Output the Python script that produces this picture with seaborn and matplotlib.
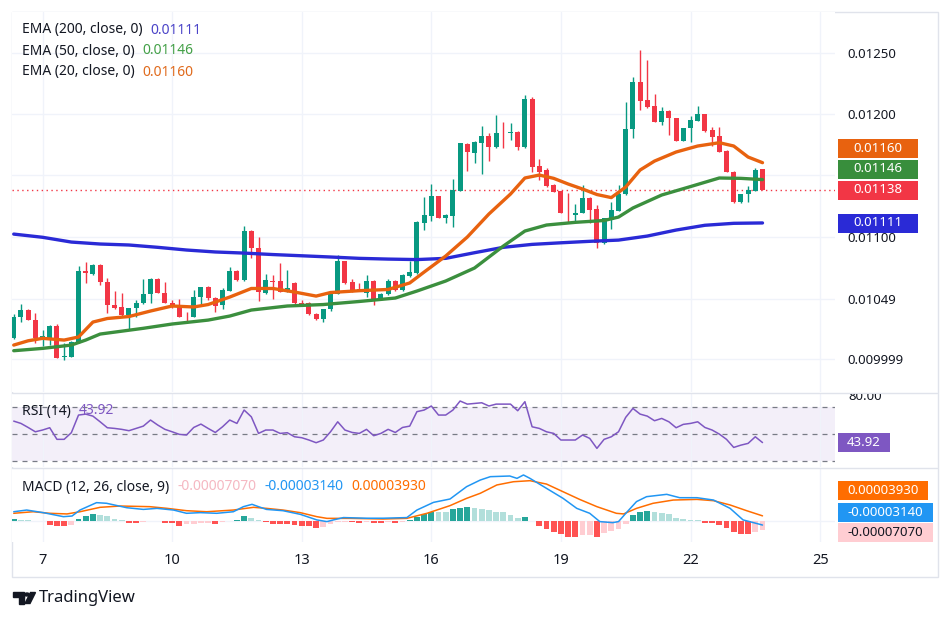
import numpy as np
import pandas as pd
import matplotlib
matplotlib.use("Agg")
import matplotlib.pyplot as plt
import seaborn as sns
from matplotlib.patches import Rectangle, Polygon, Circle
from matplotlib.lines import Line2D
from matplotlib.transforms import Bbox

# ---------------- data (4h candles) ----------------
opens = [0.010169, 0.010345, 0.010400, 0.010319, 0.010161, 0.010169, 0.010270, 0.010014, 0.010019, 0.010142,
         0.010721, 0.010692, 0.010767, 0.010626, 0.010441, 0.010423, 0.010359, 0.010414, 0.010455, 0.010531,
         0.010651, 0.010541, 0.010460, 0.010423, 0.010345, 0.010345, 0.010504, 0.010590, 0.010496, 0.010441,
         0.010558, 0.010718, 0.010645, 0.011045, 0.010904, 0.010536, 0.010637, 0.010637, 0.010550, 0.010624,
         0.010460, 0.010455, 0.010365, 0.010324, 0.010406, 0.010531, 0.010800, 0.010631, 0.010572, 0.010536,
         0.010637, 0.010482, 0.010531, 0.010637, 0.010563, 0.010680, 0.010700, 0.011113, 0.011167, 0.011331,
         0.011154, 0.011167, 0.011374, 0.011755, 0.011684, 0.011766, 0.011820, 0.011733, 0.011847, 0.011842,
         0.011855, 0.011733, 0.012122, 0.011576, 0.011543, 0.011421, 0.011371, 0.011194, 0.011176, 0.011194,
         0.011312, 0.011222, 0.010945, 0.011135, 0.011211, 0.011347, 0.011875, 0.012264, 0.012114, 0.012065,
         0.011937, 0.012027, 0.011965, 0.011782, 0.011883, 0.011945, 0.012000, 0.011869, 0.011820, 0.011700,
         0.011529, 0.011279, 0.011347, 0.011374, 0.011551]
highs = [0.010365, 0.010447, 0.010405, 0.010373, 0.010237, 0.010275, 0.010283, 0.010133, 0.010150, 0.010762,
         0.010789, 0.010772, 0.010775, 0.010659, 0.010555, 0.010541, 0.010419, 0.010482, 0.010651, 0.010658,
         0.010658, 0.010631, 0.010482, 0.010488, 0.010386, 0.010563, 0.010590, 0.010595, 0.010508, 0.010577,
         0.010754, 0.010723, 0.011086, 0.011053, 0.010994, 0.010692, 0.010686, 0.010786, 0.010727, 0.010631,
         0.010482, 0.010468, 0.010373, 0.010411, 0.010541, 0.010849, 0.010804, 0.010651, 0.010618, 0.010686,
         0.010645, 0.010536, 0.010651, 0.010645, 0.010691, 0.010800, 0.011126, 0.011325, 0.011429, 0.011335,
         0.011180, 0.011467, 0.011766, 0.011760, 0.011779, 0.011902, 0.011842, 0.011992, 0.011937, 0.011929,
         0.011860, 0.012155, 0.012141, 0.011630, 0.011557, 0.011425, 0.011375, 0.011353, 0.011265, 0.011421,
         0.011325, 0.011257, 0.011153, 0.011284, 0.011421, 0.012100, 0.012304, 0.012522, 0.012441, 0.012163,
         0.012059, 0.012033, 0.011969, 0.011888, 0.011984, 0.012065, 0.012004, 0.011896, 0.011896, 0.011704,
         0.011533, 0.011351, 0.011412, 0.011557, 0.011555]
lows = [0.010164, 0.010300, 0.010315, 0.010128, 0.010106, 0.010114, 0.010006, 0.009992, 0.010014, 0.010135,
        0.010618, 0.010686, 0.010604, 0.010378, 0.010406, 0.010354, 0.010237, 0.010345, 0.010449, 0.010460,
        0.010538, 0.010455, 0.010416, 0.010340, 0.010305, 0.010342, 0.010449, 0.010482, 0.010386, 0.010406,
        0.010555, 0.010641, 0.010641, 0.010822, 0.010474, 0.010532, 0.010488, 0.010545, 0.010545, 0.010450,
        0.010441, 0.010360, 0.010319, 0.010305, 0.010394, 0.010527, 0.010613, 0.010550, 0.010553, 0.010508,
        0.010441, 0.010478, 0.010523, 0.010558, 0.010559, 0.010667, 0.010698, 0.011053, 0.011129, 0.011149,
        0.011108, 0.011075, 0.011371, 0.011537, 0.011598, 0.011510, 0.011619, 0.011720, 0.011720, 0.011788,
        0.011706, 0.011720, 0.011529, 0.011461, 0.011407, 0.011361, 0.011189, 0.011121, 0.011121, 0.011190,
        0.011108, 0.010908, 0.010941, 0.011059, 0.011208, 0.011343, 0.011802, 0.012033, 0.012046, 0.011932,
        0.011910, 0.011829, 0.011777, 0.011778, 0.011774, 0.011942, 0.011855, 0.011739, 0.011687, 0.011524,
        0.011274, 0.011275, 0.011279, 0.011371, 0.011376]
closes = [0.010345, 0.010400, 0.010319, 0.010169, 0.010188, 0.010270, 0.010011, 0.010027, 0.010142, 0.010721,
          0.010700, 0.010767, 0.010626, 0.010441, 0.010419, 0.010359, 0.010414, 0.010455, 0.010531, 0.010653,
          0.010541, 0.010460, 0.010423, 0.010345, 0.010340, 0.010504, 0.010585, 0.010496, 0.010433, 0.010563,
          0.010718, 0.010645, 0.011045, 0.010904, 0.010545, 0.010645, 0.010629, 0.010550, 0.010577, 0.010455,
          0.010449, 0.010365, 0.010324, 0.010406, 0.010531, 0.010800, 0.010618, 0.010558, 0.010558, 0.010637,
          0.010482, 0.010531, 0.010637, 0.010563, 0.010686, 0.010708, 0.011121, 0.011176, 0.011331, 0.011154,
          0.011176, 0.011380, 0.011761, 0.011692, 0.011774, 0.011820, 0.011733, 0.011847, 0.011842, 0.011851,
          0.011733, 0.012122, 0.011570, 0.011529, 0.011412, 0.011366, 0.011194, 0.011189, 0.011194, 0.011312,
          0.011216, 0.010951, 0.011149, 0.011216, 0.011347, 0.011875, 0.012264, 0.012109, 0.012059, 0.011937,
          0.012027, 0.011965, 0.011782, 0.011883, 0.011951, 0.012000, 0.011864, 0.011815, 0.011692, 0.011529,
          0.011279, 0.011347, 0.011380, 0.011543, 0.011380]

# EMA lines, sampled along the bar index
ema200_bar = [0, 4, 8, 12, 16, 20, 24, 28, 32, 36, 40, 44, 48, 52, 56, 60, 64, 68, 72, 76, 80, 84, 88, 92, 96, 100, 104]
ema200 = [0.011020, 0.010994, 0.010955, 0.010939, 0.010931, 0.010912, 0.010890, 0.010874, 0.010865, 0.010853,
          0.010843, 0.010833, 0.010822, 0.010816, 0.010812, 0.010822, 0.010868, 0.010912, 0.010936, 0.010949,
          0.010961, 0.010971, 0.011004, 0.011053, 0.011092, 0.011108, 0.011111]
ema50_bar = [0, 4, 8, 10, 12, 18, 22, 27, 30, 33, 38, 43, 48, 53, 56, 60, 64, 68, 71, 74, 78, 82, 84, 86, 90, 94, 98, 101, 104]
ema50 = [0.010068, 0.010087, 0.010114, 0.010155, 0.010204, 0.010251, 0.010286, 0.010318, 0.010351, 0.010400,
         0.010433, 0.010445, 0.010470, 0.010498, 0.010555, 0.010637, 0.010743, 0.010922, 0.011045, 0.011094,
         0.011116, 0.011131, 0.011159, 0.011233, 0.011339, 0.011408, 0.011478, 0.011475, 0.011465]
ema20_bar = [0, 2, 4, 7, 9, 11, 13, 16, 19, 22, 25, 27, 30, 33, 36, 39, 42, 44, 48, 52, 55, 57, 60, 63, 66,
             69, 71, 73, 75, 77, 79, 81, 83, 85, 87, 89, 92, 95, 98, 100, 102, 104]
ema20 = [0.010114, 0.010149, 0.010169, 0.010155, 0.010180, 0.010302, 0.010331, 0.010347, 0.010392, 0.010433,
         0.010425, 0.010445, 0.010506, 0.010576, 0.010576, 0.010547, 0.010514, 0.010543, 0.010558, 0.010568,
         0.010621, 0.010710, 0.010841, 0.010996, 0.011184, 0.011347, 0.011478, 0.011502, 0.011475, 0.011429,
         0.011388, 0.011343, 0.011318, 0.011404, 0.011543, 0.011616, 0.011690, 0.011739, 0.011766, 0.011739,
         0.011649, 0.011603]

rsi = [59.8, 58.1, 55.1, 51.9, 53.2, 54.9, 46.3, 46.3, 51.2, 64.3,
       65.0, 63.5, 59.3, 54.9, 54.4, 53.7, 52.7, 54.4, 56.1, 60.6,
       56.9, 53.7, 51.9, 50.0, 49.5, 55.1, 57.6, 54.4, 51.4, 55.6,
       60.6, 58.1, 68.0, 63.0, 50.7, 53.2, 53.2, 50.7, 51.2, 48.2,
       47.5, 45.8, 43.8, 45.8, 51.9, 59.3, 53.2, 51.4, 50.7, 53.7,
       49.0, 50.7, 53.7, 51.4, 55.1, 56.1, 66.8, 68.0, 71.0, 64.3,
       64.3, 68.0, 74.7, 72.4, 72.9, 73.4, 71.0, 72.4, 72.4, 72.4,
       67.5, 74.2, 55.6, 54.4, 51.9, 50.7, 45.8, 45.8, 45.8, 49.5,
       47.0, 39.6, 46.3, 48.2, 51.9, 62.6, 69.2, 65.0, 63.5, 60.1,
       61.8, 59.3, 54.9, 57.4, 58.1, 59.3, 55.1, 53.2, 50.2, 46.3,
       40.3, 42.0, 43.3, 48.2, 43.92]

macd_hist = [1.3e-5, 1.0e-5, 0.8e-5, 0.2e-5, -0.3e-5, -3.1e-5, -3.5e-5, -3.6e-5, -2.8e-5, 1.3e-5,
             4.0e-5, 5.1e-5, 4.5e-5, 3.5e-5, 1.5e-5, 0.5e-5, -1.3e-5, -1.5e-5, -0.8e-5, 0.3e-5,
             0.2e-5, -1.3e-5, -1.5e-5, -3.6e-5, -2.5e-5, -2.0e-5, -1.5e-5, -1.3e-5, -2.5e-5, -0.5e-5,
             0.3e-5, 1.0e-5, 3.5e-5, 2.5e-5, 0.5e-5, -0.5e-5, -2.0e-5, -2.3e-5, -2.5e-5, -3.0e-5,
             -3.5e-5, -4.0e-5, -5.6e-5, -4.5e-5, -2.5e-5, -1.0e-5, -0.5e-5, -1.0e-5, -1.2e-5, -0.5e-5,
             -1.2e-5, -1.5e-5, -1.0e-5, -1.2e-5, -0.5e-5, 0.8e-5, 3.0e-5, 5.5e-5, 7.0e-5, 6.9e-5,
             6.8e-5, 9.0e-5, 10.0e-5, 10.5e-5, 10.2e-5, 9.0e-5, 8.5e-5, 7.2e-5, 6.7e-5, 4.6e-5,
             2.6e-5, 3.3e-5, 0.2e-5, -3.6e-5, -6.4e-5, -8.2e-5, -10.3e-5, -12.0e-5, -12.1e-5, -10.8e-5,
             -10.7e-5, -12.3e-5, -9.5e-5, -7.7e-5, -6.2e-5, -2.3e-5, 4.6e-5, 6.7e-5, 7.7e-5, 7.2e-5,
             5.9e-5, 5.1e-5, 2.0e-5, 1.3e-5, 0.8e-5, 0.5e-5, -1.3e-5, -1.8e-5, -3.1e-5, -5.6e-5,
             -8.2e-5, -9.8e-5, -10.3e-5, -8.2e-5, -7.07e-5]
macd_bar = [0, 1.8, 4.1, 6.9, 8.1, 9.2, 11.5, 12.9, 15.7, 18, 19.9, 22.2, 24, 25.9, 28.2, 30.5, 31.9, 33.1,
            34, 35.1, 37.4, 39.8, 42.1, 43.5, 44.4, 45.8, 49, 51.3, 54.6, 56, 58.3, 60.6, 62.9, 64.8, 66.2,
            68.9, 69.9, 70.8, 71.7, 74, 76.3, 78.2, 80, 81.4, 83.2, 84, 85.1, 86.5, 87.9, 90.7, 92.5, 94.9,
            97.2, 99.5, 101.3, 102.2, 104]
macd_line = [7.1e-5, 8.4e-5, 6.4e-5, 3.3e-5, 3.8e-5, 8.4e-5, 14.1e-5, 13.6e-5, 10.2e-5, 8.9e-5, 9.7e-5,
             8.4e-5, 5.9e-5, 6.4e-5, 5.9e-5, 7.1e-5, 11.0e-5, 12.8e-5, 11.0e-5, 8.9e-5, 7.9e-5, 5.1e-5,
             0.8e-5, -0.5e-5, 0.8e-5, 2.6e-5, 2.1e-5, 2.1e-5, 2.6e-5, 8.4e-5, 14.3e-5, 16.9e-5, 26.4e-5,
             31.5e-5, 34.1e-5, 34.6e-5, 32.8e-5, 35.4e-5, 32.8e-5, 25.1e-5, 17.4e-5, 9.7e-5, 5.9e-5,
             -0.5e-5, -1.3e-5, -0.5e-5, 6.4e-5, 14.9e-5, 18.7e-5, 20.5e-5, 17.9e-5, 17.9e-5, 16.1e-5,
             9.7e-5, 0.8e-5, -0.5e-5, -3.14e-5]
signal_bar = [0, 2.7, 5, 7.4, 9.2, 12, 14.8, 18.9, 21.3, 24, 26.8, 30.5, 33.3, 35.1, 37.4, 39.8, 42.1, 43.5,
              46.7, 51.3, 54.6, 57.4, 60.6, 62.9, 64.8, 67.1, 69.4, 71.7, 74, 76.3, 78.6, 81, 83.7, 84.7,
              86.5, 88.8, 91.6, 94.9, 97.2, 99.5, 101.8, 104]
signal_line = [5.9e-5, 7.1e-5, 5.9e-5, 5.4e-5, 7.1e-5, 10.5e-5, 11.5e-5, 11.0e-5, 9.7e-5, 7.9e-5, 7.1e-5,
               8.4e-5, 10.5e-5, 9.7e-5, 8.4e-5, 6.4e-5, 3.3e-5, 2.0e-5, 2.0e-5, 1.5e-5, 2.0e-5, 5.9e-5,
               11.8e-5, 17.4e-5, 21.3e-5, 27.7e-5, 30.2e-5, 31.0e-5, 28.4e-5, 22.5e-5, 16.6e-5, 11.0e-5,
               5.9e-5, 5.4e-5, 9.7e-5, 13.6e-5, 16.1e-5, 16.6e-5, 15.6e-5, 12.3e-5, 7.9e-5, 3.93e-5]

day_labels = [7, 10, 13, 16, 19, 22, 25]
first_bar_time = pd.Timestamp("2024-01-06 08:00")
bar_length = pd.Timedelta(hours=4)
price_ticks = [0.0125, 0.0120, 0.0115, 0.0110, 0.01049, 0.009999]
# the 0.0115 label sits hidden behind the price badges in the reference
price_tick_labels = ["0.01250", "0.01200", "", "0.01100", "0.01049", "0.009999"]

# ---------------- style ----------------
W, H = 950, 619
sns.set_theme(style="white")
plt.rcParams['font.family'] = ['Noto Sans', 'DejaVu Sans']
TXT = '#131722'
UP, DOWN = '#089981', '#f23645'
C200, C50, C20 = '#2a2ad6', '#3b8f3e', '#e8620f'
GRID = '#f0f3fa'

fig = plt.figure(figsize=(W / 100, H / 100), dpi=100)
fig.patch.set_facecolor('white')


def fx(x):
    return x / W


def fy(y):
    return 1 - y / H


def axes_px(x0, y0, x1, y1):
    return fig.add_axes([fx(x0), fy(y1), (x1 - x0) / W, (y1 - y0) / H])


ax = axes_px(12, 12, 835, 392)
ax_rsi = axes_px(12, 394, 835, 467)
ax_macd = axes_px(12, 469, 835, 542)

df = pd.DataFrame({'open': opens, 'high': highs, 'low': lows, 'close': closes})
df['bar'] = np.arange(len(df))
df['color'] = np.where(df['close'] >= df['open'], UP, DOWN)
day_pos = [(pd.Timestamp(first_bar_time.year, first_bar_time.month, d) - first_bar_time) / bar_length
           for d in day_labels]
xlim = (-0.24, 114.07)

for a in (ax, ax_rsi, ax_macd):
    a.set_facecolor('white')
    sns.despine(ax=a, left=True, bottom=True, right=True, top=True)
    a.set_xlim(*xlim)
    a.set_xticks(day_pos)
    a.xaxis.grid(True, color=GRID, lw=1)
    a.set_axisbelow(True)
    a.tick_params(axis='both', length=0)
    a.set_xlabel('')
    a.set_ylabel('')

# ---------------- main price panel ----------------
ax.set_ylim(0.009731, 0.012833)
ax.set_yticks(price_ticks)
ax.yaxis.grid(True, color=GRID, lw=1)
ax.yaxis.tick_right()
ax.set_yticklabels(price_tick_labels)
ax.tick_params(axis='y', pad=9, labelsize=9.5, labelcolor=TXT)
ax.set_xticklabels([])

ax.vlines(df['bar'], df['low'], df['high'], colors=df['color'], lw=1, zorder=2)
body = np.maximum((df['close'] - df['open']).abs(), 0.000007)
ax.bar(df['bar'], body, bottom=np.minimum(df['open'], df['close']), width=0.7,
       color=df['color'], linewidth=0, zorder=3)

sns.lineplot(x=ema200_bar, y=ema200, ax=ax, color=C200, lw=2.4, estimator=None, sort=False, zorder=4)
sns.lineplot(x=ema50_bar, y=ema50, ax=ax, color=C50, lw=2.4, estimator=None, sort=False, zorder=4)
sns.lineplot(x=ema20_bar, y=ema20, ax=ax, color=C20, lw=2.4, estimator=None, sort=False, zorder=5)
ax.axhline(closes[-1], color=DOWN, lw=1, ls=(0, (1, 2.5)), zorder=1)
ax.set_xlim(*xlim)
ax.set_xlabel('')
ax.set_ylabel('')

# ---------------- RSI panel ----------------
ax_rsi.set_ylim(25.8, 79.9)
ax_rsi.set_yticks([])
ax_rsi.set_xticklabels([])
ax_rsi.axhspan(30, 70, color='#7e57c2', alpha=0.09, lw=0, zorder=0)
for lvl in (70, 50, 30):
    ax_rsi.axhline(lvl, color='#787b86', lw=0.9, ls=(0, (4, 4)), zorder=1)
sns.lineplot(x=df['bar'], y=rsi, ax=ax_rsi, color='#7e57c2', lw=1.1, estimator=None, sort=False, zorder=3)
ax_rsi.set_xlim(*xlim)
ax_rsi.set_xlabel('')
ax_rsi.set_ylabel('')

# ---------------- MACD panel ----------------
ax_macd.set_ylim(-16.2e-5, 40e-5)
ax_macd.set_yticks([0])
ax_macd.yaxis.grid(True, color=GRID, lw=1)
ax_macd.set_yticklabels([])
hist_colors = []
prev = None
for v in macd_hist:
    rising = prev is None or v > prev
    if v >= 0:
        hist_colors.append('#26a69a' if rising else '#b2dfdb')
    else:
        hist_colors.append('#ffcdd2' if rising else '#ff5252')
    prev = v
ax_macd.bar(df['bar'], macd_hist, width=0.8, color=hist_colors, linewidth=0, zorder=2)
sns.lineplot(x=signal_bar, y=signal_line, ax=ax_macd, color='#ff6d00', lw=1.1, estimator=None, sort=False, zorder=3)
sns.lineplot(x=macd_bar, y=macd_line, ax=ax_macd, color='#2196f3', lw=1.1, estimator=None, sort=False, zorder=4)
ax_macd.set_xlim(*xlim)
ax_macd.set_xticks(day_pos)
ax_macd.set_xticklabels([str(d) for d in day_labels], fontsize=10.5, fontweight='bold', color=TXT)
ax_macd.tick_params(axis='x', pad=8)
ax_macd.set_xlabel('')
ax_macd.set_ylabel('')

# ---------------- frame & separators ----------------
fig.add_artist(Rectangle((fx(11.5), fy(576.5)), 926 / W, 565 / H, transform=fig.transFigure,
                         fill=False, edgecolor='#e0e3eb', lw=1, zorder=0))
for ysep in (393, 468):
    fig.add_artist(Line2D([fx(12), fx(937)], [fy(ysep), fy(ysep)], transform=fig.transFigure,
                          color='#e0e3eb', lw=1))

# ---------------- legends ----------------
renderer = fig.canvas.get_renderer()


def seq_text(x, y, parts, size=10, gap=8):
    xx = x
    for s, c in parts:
        t = fig.text(fx(xx), fy(y), s, color=c, fontsize=size, ha='left', va='center', zorder=20)
        bb = t.get_window_extent(renderer)
        xx = bb.x1 + gap


seq_text(22, 30, [("EMA (200, close, 0)", TXT), ("0.01111", '#4b44c8')])
seq_text(22, 51, [("EMA (50, close, 0)", TXT), ("0.01146", '#43a047')])
seq_text(22, 72, [("EMA (20, close, 0)", TXT), ("0.01160", '#e06a1c')])
seq_text(22, 411, [("RSI (14)", TXT), ("43.92", '#7e57c2')])
seq_text(22, 487, [("MACD (12, 26, close, 9)", TXT), ("-0.00007070", '#f5b8c2'),
                   ("-0.00003140", '#2196f3'), ("0.00003930", '#ff6d00')])


# ---------------- right-scale badges ----------------
def badge(x0, x1, yc, face, text, tcolor='white', h=19, size=9.5):
    fig.add_artist(Rectangle((fx(x0), fy(yc + h / 2)), (x1 - x0) / W, h / H, transform=fig.transFigure,
                             facecolor=face, edgecolor='none', zorder=10))
    fig.text(fx((x0 + x1) / 2), fy(yc), text, color=tcolor, fontsize=size, ha='center', va='center',
             fontweight='bold', zorder=11)


badge(838, 918, 148, C20, "0.01160")
badge(838, 918, 169, '#388e3c', "0.01146")
badge(838, 918, 190, DOWN, "0.01138")
badge(838, 918, 223, C200, "0.01111")
badge(838, 890, 442, '#7e57c2', "43.92")
badge(838, 928, 490, '#ff6d00', "0.00003930")
badge(838, 933, 512, '#2196f3', "-0.00003140")
badge(838, 933, 532, '#ffcdd2', "-0.00007070", tcolor=TXT)

t80 = fig.text(fx(848), fy(396), "80.00", color=TXT, fontsize=9.5, ha='left', va='center')
t80.set_clip_box(Bbox.from_extents(836, H - 467, 945, H - 393.5))
t80.set_clip_on(True)

# ---------------- TradingView mark ----------------
logo = '#131722'
fig.add_artist(Rectangle((fx(13), fy(596.5)), 11 / W, 4.5 / H, transform=fig.transFigure, color=logo))
fig.add_artist(Rectangle((fx(18.5), fy(603.5)), 5.5 / W, 11 / H, transform=fig.transFigure, color=logo))
fig.add_artist(Circle((fx(27), fy(594.5)), 2.3 / W, transform=fig.transFigure, color=logo))
fig.add_artist(Polygon([(fx(25), fy(603.5)), (fx(30.5), fy(592.5)), (fx(35.5), fy(592.5)), (fx(30), fy(603.5))],
                       closed=True, transform=fig.transFigure, color=logo))
fig.text(fx(39), fy(598), "TradingView", color=logo, fontsize=12, ha='left', va='center')

fig.savefig("out.png", dpi=100)
